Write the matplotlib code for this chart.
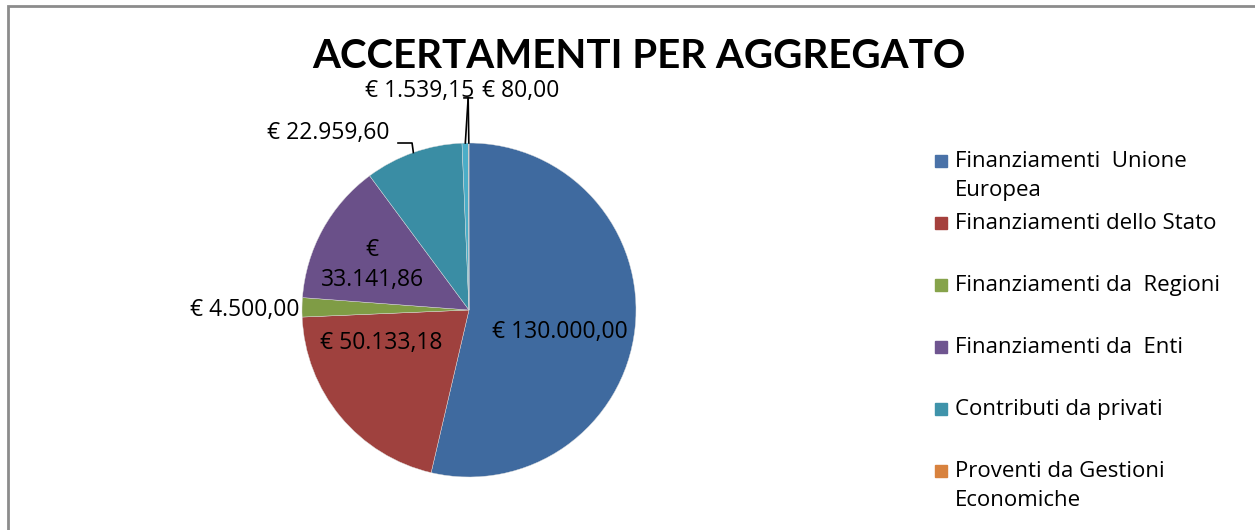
import matplotlib
matplotlib.use("Agg")
import numpy as np
import matplotlib.pyplot as plt
from matplotlib.patches import Rectangle

# data
categories = [
    "Finanziamenti  Unione\nEuropea",
    "Finanziamenti dello Stato",
    "Finanziamenti da  Regioni",
    "Finanziamenti da  Enti",
    "Contributi da privati",
    "Proventi da Gestioni\nEconomiche",
    "Altro",
]
values = [130000.00, 50133.18, 4500.00, 33141.86, 22959.60, 1539.15, 80.00]
value_labels = ["€ 130.000,00", "€ 50.133,18", "€ 4.500,00", "€\n33.141,86",
                "€ 22.959,60", "€ 1.539,15", "€ 80,00"]
colors = ["#3F6A9F", "#9F413E", "#7F9C45", "#6A5089", "#3A8DA4", "#4BADC7", "#D8823E"]
legend_colors = ["#4A72A8", "#A5403D", "#86A34B", "#6F5590", "#3F93AA", "#D8823E", "#4BADC7"]
n_legend_visible = 6  # the 7th entry falls below the visible area

# label placement (pie radius units), and which labels get a leader line
label_pos = [(0.545, -0.13), (-0.527, -0.20), (-1.34, 0.0), (-0.58, 0.27),
             (-0.844, 1.06), (-0.293, 1.311), (0.311, 1.311)]
leader_start = {4: [(-0.425, 1.0), (-0.341, 1.0)],
                5: [(-0.03, 1.27), (-0.005, 1.27)],
                6: [(0.02, 1.27), (-0.005, 1.27)]}

W, H = 1255, 530
fig = plt.figure(figsize=(W / 100, H / 100), dpi=100)
plt.rcParams['font.family'] = ['Open Sans', 'DejaVu Sans']

# chart border (extends past right/bottom edge)
fig.patches.append(Rectangle((8 / W, -0.1), 1.2, (H - 6) / H + 0.1,
                             transform=fig.transFigure, fill=False,
                             edgecolor="#8C8C8C", linewidth=2))

cx, cy, r = 469, 310, 167
ax = fig.add_axes([(cx - r) / W, (H - cy - r) / H, 2 * r / W, 2 * r / H])
wedges, _ = ax.pie(values, colors=colors, startangle=90, counterclock=False,
                   wedgeprops=dict(linewidth=0.3, edgecolor="#DDDDDD"))
ax.set_xlim(-1, 1)
ax.set_ylim(-1, 1)
ax.set_aspect("equal")
ax.axis("off")

fs_lab = 16.5
fs_leg = 16
for i, (txt, (x, y)) in enumerate(zip(value_labels, label_pos)):
    ax.text(x, y, txt, ha="center", va="center", fontsize=fs_lab, color="black",
            linespacing=1.35, clip_on=False)

for i, pts in leader_start.items():
    w = wedges[i]
    mid = np.deg2rad((w.theta1 + w.theta2) / 2)
    xs = [p[0] for p in pts] + [np.cos(mid)]
    ys = [p[1] for p in pts] + [np.sin(mid)]
    ax.plot(xs, ys, color="black", linewidth=1.2, clip_on=False)

fig.text(639 / W, 1 - 56 / H, "ACCERTAMENTI PER AGGREGATO", ha="center",
         va="center", fontsize=29, fontweight="bold", family=["Lato", "DejaVu Sans"])

# legend
for i, (lab, col) in enumerate(zip(categories[:n_legend_visible],
                                   legend_colors[:n_legend_visible])):
    ytop = 161 + i * 62
    fig.patches.append(Rectangle((935 / W, 1 - (ytop + 6) / H), 12 / W, 12 / H,
                                 transform=fig.transFigure, color=col))
    fig.text(955 / W, 1 - (ytop - 10) / H, lab, ha="left", va="top",
             fontsize=fs_leg, linespacing=1.52)

fig.savefig("out.png", dpi=100)
